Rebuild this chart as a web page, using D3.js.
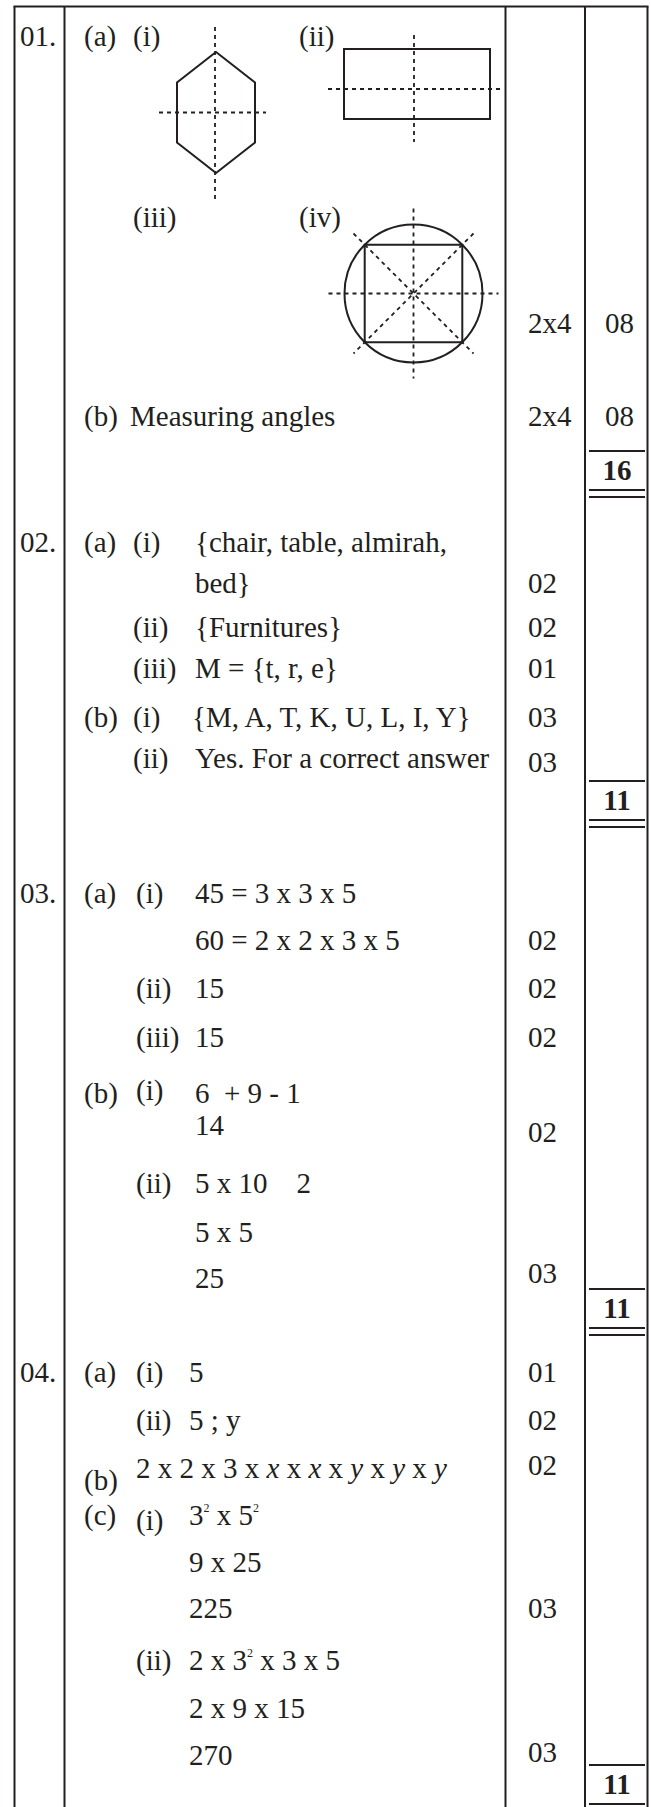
<!DOCTYPE html>
<html>
<head>
<meta charset="utf-8">
<script src="https://cdn.jsdelivr.net/npm/d3@7/dist/d3.min.js"></script>
<style>
  html, body { margin: 0; padding: 0; background: #fff; }
  svg { display: block; }
  text { font-family: "Liberation Serif", "Times New Roman", serif; fill: #231f20; white-space: pre; }
</style>
</head>
<body>
<svg id="chart" width="651" height="1807"></svg>
<script>
// ---------------- content (data) ----------------
const questionNumbers = [["r1", "01."], ["r6", "02."], ["r13", "03."], ["r24", "04."]];
const partLabels = [
  ["r1", "(a)"], ["r4", "(b)"],
  ["r6", "(a)"], ["r10", "(b)"],
  ["r13", "(a)"], ["r17", "(b)"],
  ["r24", "(a)"], ["r27", "(b)"], ["r28", "(c)"]
];
const subLabels = [
  ["r1", "sub", "(i)"], ["r1", "fig", "(ii)"], ["r2", "sub", "(iii)"], ["r2", "fig", "(iv)"],
  ["r6", "sub", "(i)"], ["r8", "sub", "(ii)"], ["r9", "sub", "(iii)"], ["r10", "sub", "(i)"], ["r11", "sub", "(ii)"],
  ["r13", "sub2", "(i)"], ["r15", "sub2", "(ii)"], ["r16", "sub2", "(iii)"], ["r17s", "sub2", "(i)"], ["r20", "sub2", "(ii)"],
  ["r24", "sub2", "(i)"], ["r25", "sub2", "(ii)"], ["r28s", "sub2", "(i)"], ["r31", "sub2", "(ii)"]
];
const answerTexts = [
  ["r4", "ansM", "Measuring angles"],
  ["r6", "ans", "{chair, table, almirah,"],
  ["r7", "ans", "bed}"],
  ["r8", "ans", "{Furnitures}"],
  ["r9", "ans", "M = {t, r, e}"],
  ["r10", "ansW", "{M, A, T, K, U, L, I, Y}"],
  ["r11", "ans", "Yes. For a correct answer"],
  ["r13", "ans", "45 = 3 x 3 x 5"],
  ["r14", "ans", "60 = 2 x 2 x 3 x 5"],
  ["r15", "ans", "15"],
  ["r16", "ans", "15"],
  ["r17", "ans", "6  + 9 - 1"],
  ["r18", "ans", "14"],
  ["r20", "ans", "5 x 10    2"],
  ["r21", "ans", "5 x 5"],
  ["r22", "ans", "25"],
  ["r24", "ans4", "5"],
  ["r25", "ans4", "5 ; y"],
  ["r26", "sub2", "2 x 2 x 3 x _x_ x _x_ x _y_ x _y_ x _y_"],
  ["r28", "ans4", "3^2 x 5^2"],
  ["r29", "ans4", "9 x 25"],
  ["r30", "ans4", "225"],
  ["r31", "ans4", "2 x 3^2 x 3 x 5"],
  ["r32", "ans4", "2 x 9 x 15"],
  ["r33", "ans4", "270"]
];
const markValues = [
  ["r3", "2x4"], ["r4", "2x4"],
  ["r7", "02"], ["r8", "02"], ["r9", "01"], ["r10", "03"], ["r11m", "03"],
  ["r14", "02"], ["r15", "02"], ["r16", "02"], ["r19", "02"], ["r22m", "03"],
  ["r24", "01"], ["r25", "02"], ["r26m", "02"], ["r30", "03"], ["r33m", "03"]
];
const partTotals = [["r3", "08"], ["r4", "08"]];
const questionTotals = [["r5", "16"], ["r12", "11"], ["r23", "11"], ["r34", "11"]];

// ---------------- layout ----------------
const W = 651, H = 1807;
const rowKeys = ["r1","r2","r3","r4","r5","r6","r7","r8","r9","r10","r11","r11m","r12",
  "r13","r14","r15","r16","r17","r17s","r18","r19","r20","r21","r22","r22m","r23",
  "r24","r25","r26","r26m","r27","r28","r28s","r29","r30","r31","r32","r33","r33m","r34"];
const rowBaselines = [46,227,333,426,480,552,593,637,678,727,768,772,810,
  903,950,998,1047,1103,1100,1135,1142,1193,1242,1288,1283,1318,
  1382,1430,1478,1475,1490,1525,1530,1572,1618,1670,1718,1765,1762,1794];
const colKeys = ["q","part","sub","sub2","fig","ans","ansW","ans4","ansM","mark","tot","totC"];
const colX    = [20, 84, 133, 136, 299, 195, 192, 189, 130, 528, 605, 617];
const gridX = [14.5, 64.5, 505.5, 585, 647.5];
const topY = 6.5;
const totalBox = { x0: 589, x1: 645, above: 29, below1: 10, below2: 17 };
const fontSize = 29;

const y = d3.scaleOrdinal().domain(rowKeys).range(rowBaselines);
const x = d3.scaleOrdinal().domain(colKeys).range(colX);

const svg = d3.select("#chart");
const ink = "#231f20";

// grid
svg.append("g").selectAll("line").data(gridX).join("line")
  .attr("x1", d => d).attr("x2", d => d).attr("y1", topY).attr("y2", H)
  .attr("stroke", ink).attr("stroke-width", 2);
svg.append("line").attr("x1", gridX[0] - 1).attr("x2", gridX[gridX.length - 1] + 1)
  .attr("y1", topY).attr("y2", topY).attr("stroke", ink).attr("stroke-width", 2);

// rich text helper: ^n superscript, _v_ italic
function rich(sel) {
  sel.each(function(d) {
    const t = d3.select(this);
    const str = d.text;
    const parts = str.split(/(\^\d|_[a-z]_)/g).filter(p => p !== "");
    if (parts.length === 1 && !/^[\^_]/.test(parts[0])) { t.text(str); return; }
    let back = 0;
    parts.forEach(p => {
      if (p[0] === "^") {
        t.append("tspan").attr("dy", -13 + back).attr("font-size", 12).text(p.slice(1));
        back = 13;
      } else if (p[0] === "_") {
        t.append("tspan").attr("dy", back || null).attr("font-style", "italic").text(p.slice(1, -1));
        back = 0;
      } else {
        t.append("tspan").attr("dy", back || null).text(p);
        back = 0;
      }
    });
  });
}

function textLayer(data, opts = {}) {
  return svg.append("g").selectAll("text").data(data).join("text")
    .attr("xml:space", "preserve")
    .attr("x", d => x(d.col))
    .attr("y", d => y(d.row))
    .attr("font-size", fontSize)
    .attr("font-weight", opts.bold ? "bold" : null)
    .attr("text-anchor", opts.anchor || "start")
    .call(rich);
}

textLayer(questionNumbers.map(([row, text]) => ({ row, col: "q", text })));
textLayer(partLabels.map(([row, text]) => ({ row, col: "part", text })));
textLayer(subLabels.map(([row, col, text]) => ({ row, col, text })));
textLayer(answerTexts.map(([row, col, text]) => ({ row, col, text })));
textLayer(markValues.map(([row, text]) => ({ row, col: "mark", text })));
textLayer(partTotals.map(([row, text]) => ({ row, col: "tot", text })));
textLayer(questionTotals.map(([row, text]) => ({ row, col: "totC", text })), { bold: true, anchor: "middle" });

// total boxes (line above, double line below)
const tb = svg.append("g").attr("stroke", ink).attr("stroke-width", 2);
questionTotals.forEach(([row]) => {
  const b = y(row);
  [b - totalBox.above, b + totalBox.below1, b + totalBox.below2].forEach(yy => {
    tb.append("line").attr("x1", totalBox.x0).attr("x2", totalBox.x1).attr("y1", yy).attr("y2", yy);
  });
});

// ---------------- figures for question 1(a) ----------------
const figHex = { cx: 216, cy: 112.5, halfW: 39, halfTop: 60.5, shoulder: 30.5, vExt: [27, 199], hExt: [159, 266] };
const figRect = { x0: 344, x1: 490, y0: 49, y1: 119, vx: 414, vExt: [35, 142], hy: 89, hExt: [328, 501] };
const figCirc = { cx: 413.5, cy: 293.5, r: 69, ext: 85, diagExt: 60 };
const dash = "4,4";
const fg = svg.append("g").attr("fill", "none").attr("stroke", ink);
const line = d3.line();

// hexagon
const h = figHex;
const hexPts = [
  [h.cx, h.cy - h.halfTop], [h.cx + h.halfW, h.cy - h.halfTop + h.shoulder],
  [h.cx + h.halfW, h.cy + h.halfTop - h.shoulder], [h.cx, h.cy + h.halfTop],
  [h.cx - h.halfW, h.cy + h.halfTop - h.shoulder], [h.cx - h.halfW, h.cy - h.halfTop + h.shoulder]
];
fg.append("path").attr("d", line(hexPts) + "Z").attr("stroke-width", 2).attr("stroke-linejoin", "miter");
fg.append("path").attr("d", line([[h.cx - 1, h.vExt[0]], [h.cx - 1, h.vExt[1]]])).attr("stroke-width", 1.8).attr("stroke-dasharray", dash);
fg.append("path").attr("d", line([[h.hExt[0], h.cy], [h.hExt[1], h.cy]])).attr("stroke-width", 1.8).attr("stroke-dasharray", dash);

// rectangle
const rc = figRect;
fg.append("path").attr("d", line([[rc.x0, rc.y0], [rc.x1, rc.y0], [rc.x1, rc.y1], [rc.x0, rc.y1]]) + "Z").attr("stroke-width", 2);
fg.append("path").attr("d", line([[rc.vx, rc.vExt[0]], [rc.vx, rc.vExt[1]]])).attr("stroke-width", 1.8).attr("stroke-dasharray", dash);
fg.append("path").attr("d", line([[rc.hExt[0], rc.hy], [rc.hExt[1], rc.hy]])).attr("stroke-width", 1.8).attr("stroke-dasharray", dash);

// circle with inscribed square
const c = figCirc;
const s = c.r / Math.SQRT2;
fg.append("circle").attr("cx", c.cx).attr("cy", c.cy).attr("r", c.r).attr("stroke-width", 2);
fg.append("path").attr("d", line([[c.cx - s, c.cy - s], [c.cx + s, c.cy - s], [c.cx + s, c.cy + s], [c.cx - s, c.cy + s]]) + "Z").attr("stroke-width", 2);
[
  [[c.cx, c.cy - c.ext], [c.cx, c.cy + c.ext]],
  [[c.cx - c.ext, c.cy], [c.cx + c.ext, c.cy]],
  [[c.cx - c.diagExt, c.cy - c.diagExt], [c.cx + c.diagExt, c.cy + c.diagExt]],
  [[c.cx + c.diagExt, c.cy - c.diagExt], [c.cx - c.diagExt, c.cy + c.diagExt]]
].forEach(seg => fg.append("path").attr("d", line(seg)).attr("stroke-width", 1.8).attr("stroke-dasharray", dash));
</script>
</body>
</html>
